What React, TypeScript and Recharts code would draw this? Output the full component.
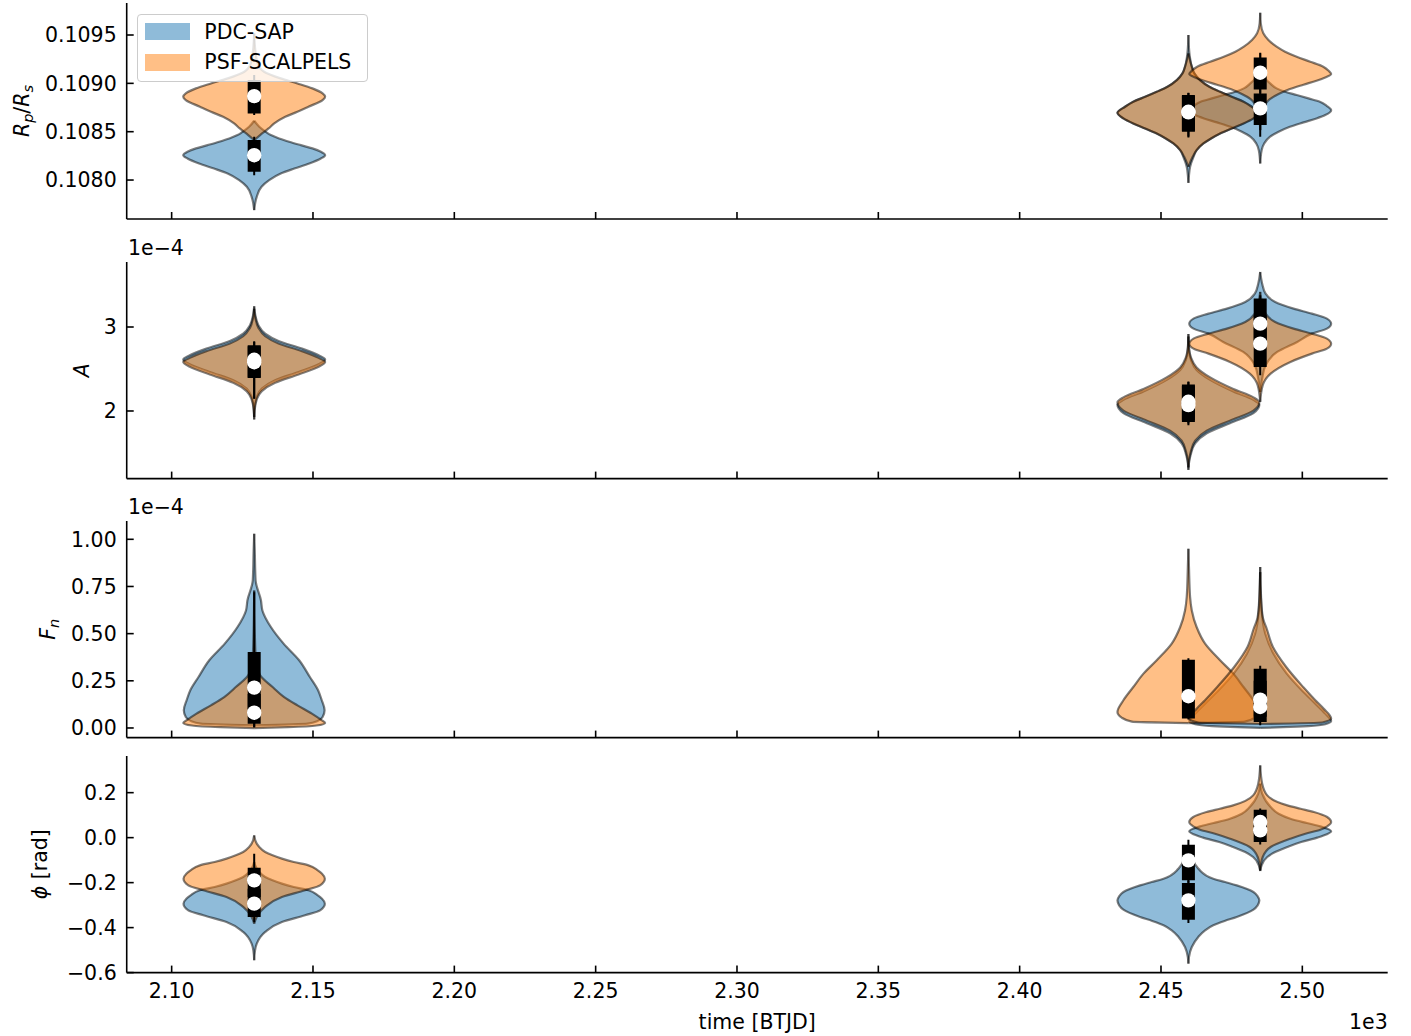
import { ComposedChart, Area, Line, XAxis, YAxis, Legend } from "recharts";

const FONT = "DejaVu Sans, sans-serif";
const FS = 20.5;
const MINUS = "\u2212";

const seriesNames = ["PDC-SAP", "PSF-SCALPELS"];
const seriesColors = ["#1f77b4", "#ff7f0e"];
// sector mid-times (BTJD) where the violins sit
const sectorTimes = [2129.2, 2459.7, 2485.1];
const timeTicks = [2100, 2150, 2200, 2250, 2300, 2350, 2400, 2450, 2500];
const timeDomain: [number, number] = [2084.1, 2530.2];

// [value, half width in days]
type Profile = [number, number][];
interface Violin { series: number; sector: number; profile: Profile }
interface BoxStat { series: number; sector: number; lo: number; q1: number; med: number; q3: number; hi: number }

// ---------- Rp/Rs ----------
const rpTicks = [0.108, 0.1085, 0.109, 0.1095];
const rpDomain: [number, number] = [0.107597, 0.109831];
const rpSapLeft: Profile = [[0.108613, 0], [0.108551, 1.8], [0.108499, 4.1], [0.108465, 5.9], [0.10843, 8.8], [0.108396, 12.4], [0.108361, 16.5], [0.108327, 20.6], [0.108292, 23.6], [0.108257, 25.1], [0.108223, 23.6], [0.108171, 19.5], [0.108119, 14.2], [0.108068, 9.4], [0.107999, 5.3], [0.10793, 2.6], [0.107826, 0.9], [0.107688, 0]];
const rpPsfLeft: Profile = [[0.109517, 0], [0.109344, 0.4], [0.109206, 1.2], [0.10912, 3.5], [0.109051, 9.4], [0.108999, 15.3], [0.108948, 20.6], [0.108896, 24.2], [0.108861, 25.1], [0.108827, 24.2], [0.108758, 19.2], [0.108706, 15.3], [0.108654, 11.0], [0.108585, 7.1], [0.108534, 5.1], [0.108465, 2.1], [0.108413, 0]];
const rpSapMid: Profile = [[0.1095, 0], [0.109413, 0.1], [0.109275, 0.5], [0.109172, 1.2], [0.109103, 2.1], [0.109034, 4.1], [0.108965, 7.4], [0.108913, 11.2], [0.108861, 15.3], [0.10881, 19.5], [0.108758, 22.4], [0.108696, 25.1], [0.108637, 23.0], [0.108585, 19.5], [0.108534, 15.3], [0.108482, 11.2], [0.10843, 8.0], [0.108378, 5.3], [0.108309, 2.9], [0.10824, 1.8], [0.108137, 0.6], [0.10805, 0.2], [0.107971, 0]];
const rpPsfMid: Profile = [[0.10931, 0], [0.109172, 1.2], [0.109103, 2.1], [0.109034, 4.1], [0.108965, 7.4], [0.108913, 11.2], [0.108861, 15.3], [0.10881, 19.5], [0.108758, 22.4], [0.108696, 25.1], [0.108637, 23.0], [0.108585, 19.5], [0.108534, 15.3], [0.108482, 11.2], [0.10843, 8.0], [0.108378, 5.3], [0.108309, 2.9], [0.10824, 1.5], [0.108137, 0]];
const rpSapRight: Profile = [[0.10931, 0], [0.109206, 0.2], [0.10912, 0.7], [0.109051, 1.7], [0.108999, 3.5], [0.108948, 5.8], [0.108913, 8.8], [0.108879, 12.9], [0.108844, 17.1], [0.10881, 21.1], [0.108765, 23.6], [0.108723, 25.1], [0.108672, 23.0], [0.108637, 19.9], [0.108596, 15.3], [0.108551, 10.5], [0.108499, 6.5], [0.108447, 3.4], [0.108378, 1.4], [0.108309, 0.5], [0.108171, 0]];
const rpPsfRight: Profile = [[0.109731, 0], [0.10962, 0.2], [0.109517, 1.1], [0.109448, 2.9], [0.109379, 5.8], [0.109327, 8.8], [0.109275, 12.9], [0.109224, 17.7], [0.109172, 22.3], [0.10913, 24.2], [0.109096, 25.1], [0.109061, 23.0], [0.109027, 19.9], [0.108986, 15.3], [0.108941, 10.5], [0.108889, 6.5], [0.108837, 3.4], [0.108768, 1.4], [0.108699, 0.5], [0.108516, 0]];
const rpBoxes: BoxStat[] = [
  { series: 0, sector: 0, lo: 0.10805, q1: 0.108085, med: 0.108257, q3: 0.108413, hi: 0.108447 },
  { series: 1, sector: 0, lo: 0.108672, q1: 0.108689, med: 0.108868, q3: 0.109034, hi: 0.109086 },
  { series: 0, sector: 1, lo: 0.10844, q1: 0.108499, med: 0.108706, q3: 0.108879, hi: 0.108903 },
  { series: 1, sector: 1, lo: 0.10845, q1: 0.10851, med: 0.1087, q3: 0.10887, hi: 0.1089 },
  { series: 0, sector: 2, lo: 0.108447, q1: 0.108568, med: 0.108741, q3: 0.108896, hi: 0.108948 },
  { series: 1, sector: 2, lo: 0.108896, q1: 0.108937, med: 0.10911, q3: 0.109268, hi: 0.109317 },
];

// ---------- A (x 1e-4) ----------
const aTicks = [2, 3];
const aDomain: [number, number] = [1.195, 3.774];
const aSapLeft: Profile = [[3.247, 0], [3.14, 0.4], [3.02, 1.5], [2.921, 3.9], [2.834, 8.6], [2.743, 16.9], [2.663, 22.8], [2.612, 25.1], [2.556, 22.8], [2.465, 15.7], [2.366, 7.4], [2.267, 2.7], [2.167, 0.9], [2.048, 0.2], [1.929, 0]];
const aPsfLeft: Profile = [[3.217, 0], [3.11, 0.4], [2.99, 1.5], [2.891, 3.9], [2.804, 8.6], [2.713, 16.9], [2.633, 22.8], [2.582, 25.1], [2.526, 22.8], [2.435, 15.7], [2.336, 7.4], [2.237, 2.7], [2.137, 0.9], [2.018, 0.2], [1.899, 0]];
const aSapMid: Profile = [[2.886, 0], [2.728, 0.2], [2.608, 0.9], [2.489, 2.9], [2.37, 7.7], [2.232, 15.9], [2.132, 23.0], [2.073, 25.1], [1.974, 23.0], [1.855, 14.7], [1.735, 6.5], [1.616, 2.4], [1.478, 0.8], [1.378, 0.2], [1.299, 0]];
const aPsfMid: Profile = [[2.916, 0], [2.758, 0.2], [2.638, 0.9], [2.519, 2.9], [2.4, 7.7], [2.262, 15.9], [2.162, 23.0], [2.103, 25.1], [2.004, 23.0], [1.885, 14.7], [1.765, 6.5], [1.646, 2.4], [1.508, 0.8], [1.408, 0.2], [1.329, 0]];
const aSapRight: Profile = [[3.655, 0], [3.516, 0.7], [3.397, 1.9], [3.298, 5.3], [3.219, 11.8], [3.159, 18.3], [3.1, 23.6], [3.04, 25.1], [2.981, 23.6], [2.921, 18.3], [2.822, 13.1], [2.703, 6.0], [2.544, 1.9], [2.385, 0.7], [2.227, 0]];
const aPsfRight: Profile = [[3.417, 0], [3.278, 0.7], [3.159, 1.9], [3.06, 5.3], [2.981, 11.8], [2.921, 18.3], [2.862, 23.6], [2.802, 25.1], [2.743, 23.6], [2.683, 18.3], [2.584, 10.7], [2.445, 3.7], [2.306, 0.9], [2.108, 0]];
const aBoxes: BoxStat[] = [
  { series: 0, sector: 0, lo: 2.147, q1: 2.393, med: 2.61, q3: 2.782, hi: 2.822 },
  { series: 1, sector: 0, lo: 2.15, q1: 2.4, med: 2.58, q3: 2.77, hi: 2.83 },
  { series: 0, sector: 1, lo: 1.83, q1: 1.87, med: 2.07, q3: 2.3, hi: 2.346 },
  { series: 1, sector: 1, lo: 1.85, q1: 1.89, med: 2.11, q3: 2.314, hi: 2.35 },
  { series: 0, sector: 2, lo: 2.663, q1: 2.814, med: 3.04, q3: 3.338, hi: 3.378 },
  { series: 1, sector: 2, lo: 2.425, q1: 2.524, med: 2.802, q3: 3.139, hi: 3.298 },
];

// ---------- F_n (x 1e-4) ----------
const fnTicks = [0, 0.25, 0.5, 0.75, 1.0];
const fnDomain: [number, number] = [-0.051, 1.097];
const fnSapLeft: Profile = [[1.029, 0], [0.941, 0.2], [0.782, 0.5], [0.676, 2.4], [0.623, 2.9], [0.535, 5.9], [0.447, 10.4], [0.359, 15.9], [0.27, 19.7], [0.2, 22.6], [0.147, 23.9], [0.094, 24.9], [0.058, 24.2], [0.037, 22.4], [0.023, 18.9], [0.014, 0]];
const fnPsfLeft: Profile = [[0.729, 0], [0.412, 0.4], [0.288, 1.8], [0.217, 6.5], [0.164, 10.6], [0.12, 15.3], [0.076, 20.4], [0.044, 23.6], [0.027, 25.1], [0.013, 22.0], [0.004, 12.0], [-0.001, 0]];
const fnPsfMid: Profile = [[0.95, 0], [0.853, 0.2], [0.694, 0.6], [0.623, 1.2], [0.535, 2.9], [0.447, 5.9], [0.359, 11.2], [0.288, 15.9], [0.217, 19.5], [0.147, 23.0], [0.085, 25.1], [0.055, 23.6], [0.034, 20.0], [0.026, 0]];
const fnSapRight: Profile = [[0.826, 0], [0.623, 0.5], [0.5, 1.8], [0.394, 4.7], [0.288, 9.4], [0.2, 14.7], [0.129, 19.5], [0.076, 23.0], [0.037, 25.1], [0.02, 23.0], [0.01, 17.0], [0.004, 8.0], [0.0, 0]];
const fnPsfRight: Profile = [[0.853, 0], [0.641, 0.5], [0.57, 1.2], [0.535, 2.1], [0.429, 4.5], [0.323, 9.2], [0.217, 15.2], [0.147, 19.5], [0.103, 22.4], [0.05, 25.1], [0.029, 22.0], [0.021, 0]];
const fnBoxes: BoxStat[] = [
  { series: 0, sector: 0, lo: 0.005, q1: 0.1, med: 0.214, q3: 0.403, hi: 0.72 },
  { series: 1, sector: 0, lo: 0.003, q1: 0.023, med: 0.081, q3: 0.18, hi: 0.4 },
  { series: 1, sector: 1, lo: 0.045, q1: 0.05, med: 0.168, q3: 0.362, hi: 0.37 },
  { series: 1, sector: 2, lo: 0.03, q1: 0.06, med: 0.15, q3: 0.314, hi: 0.33 },
  { series: 0, sector: 2, lo: 0.014, q1: 0.032, med: 0.111, q3: 0.25, hi: 0.3 },
];

// ---------- phi [rad] ----------
const phiTicks = [-0.6, -0.4, -0.2, 0, 0.2];
const phiDomain: [number, number] = [-0.6, 0.363];
const phiSapLeft: Profile = [[-0.1083, 0], [-0.1379, 0.9], [-0.1527, 1.8], [-0.175, 3.9], [-0.1898, 6.5], [-0.2046, 9.8], [-0.2194, 14.0], [-0.2342, 19.2], [-0.2564, 22.5], [-0.2713, 24.0], [-0.2935, 25.0], [-0.3231, 23.3], [-0.3453, 18.0], [-0.375, 9.8], [-0.4194, 3.9], [-0.4713, 0.9], [-0.5009, 0.3], [-0.5453, 0]];
const phiPsfLeft: Profile = [[0.0102, 0], [-0.0268, 0.9], [-0.0416, 1.8], [-0.0639, 3.9], [-0.0787, 6.5], [-0.0935, 9.8], [-0.1083, 14.0], [-0.1231, 19.2], [-0.1453, 22.5], [-0.1601, 24.0], [-0.1824, 25.0], [-0.212, 23.3], [-0.2342, 18.0], [-0.2639, 9.8], [-0.3083, 3.9], [-0.3527, 0.9], [-0.3824, 0]];
const phiSapMid: Profile = [[-0.0416, 0], [-0.0861, 1.2], [-0.1379, 3.5], [-0.1824, 8.8], [-0.1972, 13.0], [-0.212, 17.1], [-0.2416, 23.0], [-0.2609, 24.5], [-0.2787, 25.1], [-0.3009, 24.5], [-0.3201, 23.0], [-0.3527, 17.1], [-0.3705, 12.8], [-0.3898, 8.8], [-0.412, 5.9], [-0.4416, 3.5], [-0.4861, 1.2], [-0.5305, 0.2], [-0.5601, 0]];
const phiSapRight: Profile = [[0.2399, 0], [0.1954, 0.7], [0.1361, 3.7], [0.1065, 6.5], [0.0843, 10.7], [0.065, 16.5], [0.0502, 21.3], [0.028, 25.1], [0.0147, 23.6], [-0.0001, 20.2], [-0.0194, 14.5], [-0.0416, 9.6], [-0.0639, 5.3], [-0.0861, 2.5], [-0.1231, 0.5], [-0.1483, 0]];
const phiPsfRight: Profile = [[0.3213, 0], [0.2399, 0.7], [0.188, 2.5], [0.1436, 9.6], [0.1287, 14.3], [0.1139, 19.0], [0.0917, 23.7], [0.0695, 25.1], [0.0502, 23.7], [0.0354, 21.3], [0.0176, 16.0], [-0.0046, 10.7], [-0.0416, 3.7], [-0.0861, 0.9], [-0.1453, 0]];
const phiBoxes: BoxStat[] = [
  { series: 1, sector: 0, lo: -0.3, q1: -0.2639, med: -0.1898, q3: -0.1335, hi: -0.0713 },
  { series: 0, sector: 0, lo: -0.375, q1: -0.3527, med: -0.2935, q3: -0.2268, hi: -0.17 },
  { series: 0, sector: 1, lo: -0.38, q1: -0.3646, med: -0.2787, q3: -0.2016, hi: -0.19 },
  { series: 1, sector: 1, lo: -0.2, q1: -0.1898, med: -0.1009, q3: -0.0313, hi: -0.009 },
  { series: 1, sector: 2, lo: 0.01, q1: 0.0176, med: 0.0695, q3: 0.1243, hi: 0.13 },
  { series: 0, sector: 2, lo: -0.03, q1: -0.0194, med: 0.0324, q3: 0.0917, hi: 0.1 },
];

interface PanelSpec {
  top: number;
  bottom: number;
  domain: [number, number];
  ticks: number[];
  fmt: (v: number) => string;
  violins: Violin[];
  boxes: BoxStat[];
  offset?: string;
  labelX: number;
  label: React.ReactNode;
}

const sub = (s: string) => (
  <tspan fontStyle="italic" fontSize={14.5} dy={4}>{s}</tspan>
);

const panels: PanelSpec[] = [
  {
    top: 3, bottom: 219, domain: rpDomain, ticks: rpTicks, fmt: (v) => v.toFixed(4),
    violins: [
      { series: 0, sector: 0, profile: rpSapLeft }, { series: 0, sector: 1, profile: rpSapMid }, { series: 0, sector: 2, profile: rpSapRight },
      { series: 1, sector: 0, profile: rpPsfLeft }, { series: 1, sector: 1, profile: rpPsfMid }, { series: 1, sector: 2, profile: rpPsfRight },
    ],
    boxes: rpBoxes, labelX: 29,
    label: (<><tspan fontStyle="italic">R</tspan>{sub("p")}<tspan dy={-4}>/</tspan><tspan fontStyle="italic">R</tspan>{sub("s")}</>),
  },
  {
    top: 261.7, bottom: 478.3, domain: aDomain, ticks: aTicks, fmt: (v) => String(v),
    violins: [
      { series: 0, sector: 0, profile: aSapLeft }, { series: 0, sector: 1, profile: aSapMid }, { series: 0, sector: 2, profile: aSapRight },
      { series: 1, sector: 0, profile: aPsfLeft }, { series: 1, sector: 1, profile: aPsfMid }, { series: 1, sector: 2, profile: aPsfRight },
    ],
    boxes: aBoxes, offset: `1e${MINUS}4`, labelX: 89,
    label: <tspan fontStyle="italic">A</tspan>,
  },
  {
    top: 520.7, bottom: 737.3, domain: fnDomain, ticks: fnTicks, fmt: (v) => v.toFixed(2),
    violins: [
      { series: 0, sector: 0, profile: fnSapLeft }, { series: 0, sector: 2, profile: fnSapRight },
      { series: 1, sector: 0, profile: fnPsfLeft }, { series: 1, sector: 1, profile: fnPsfMid }, { series: 1, sector: 2, profile: fnPsfRight },
    ],
    boxes: fnBoxes, offset: `1e${MINUS}4`, labelX: 55,
    label: (<><tspan fontStyle="italic">F</tspan>{sub("n")}</>),
  },
  {
    top: 755.7, bottom: 972.3, domain: phiDomain, ticks: phiTicks, fmt: (v) => v.toFixed(1).replace("-", MINUS),
    violins: [
      { series: 0, sector: 0, profile: phiSapLeft }, { series: 0, sector: 1, profile: phiSapMid }, { series: 0, sector: 2, profile: phiSapRight },
      { series: 1, sector: 0, profile: phiPsfLeft }, { series: 1, sector: 2, profile: phiPsfRight },
    ],
    boxes: phiBoxes, labelX: 47,
    label: (<><tspan fontStyle="italic">ϕ</tspan><tspan> [rad]</tspan></>),
  },
];

const frame = { stroke: "#000", strokeWidth: 1.6 };
const tickStyle = { fill: "#000", fontSize: FS, fontFamily: FONT };

const LegendBox = () => (
  <div style={{ boxSizing: "border-box", width: 231, height: 68, background: "rgba(255,255,255,0.8)", border: "1px solid #cccccc", borderRadius: 4, position: "relative", fontFamily: FONT, fontSize: FS, color: "#000" }}>
    {seriesNames.map((name, i) => (
      <div key={name} style={{ position: "absolute", left: 0, top: 7.7 + i * 30.7, height: 18, display: "flex", alignItems: "center", whiteSpace: "nowrap" }}>
        <span style={{ display: "inline-block", marginLeft: 7, width: 45, height: 16.5, background: seriesColors[i], opacity: 0.5 }} />
        <span style={{ marginLeft: 14, lineHeight: "18px" }}>{name}</span>
      </div>
    ))}
  </div>
);

function Panel({ p, last, first }: { p: PanelSpec; last: boolean; first: boolean }) {
  const mTop = first ? p.top : 40;
  const chartTop = p.top - mTop;
  const plotH = p.bottom - p.top;
  const axisH = last ? 64 : 12;
  const midY = mTop + plotH / 2;
  return (
    <div style={{ position: "absolute", left: 0, top: chartTop }}>
      <ComposedChart layout="vertical" width={1411} height={mTop + plotH + axisH} margin={{ top: mTop, right: 23.3, bottom: 0, left: 0 }}>
        <XAxis type="number" domain={timeDomain} allowDataOverflow ticks={timeTicks} interval={0} height={axisH}
          tickSize={-7} tickMargin={18} axisLine={frame} tickLine={frame} tick={tickStyle}
          tickFormatter={(v: number) => (last ? (v / 1000).toFixed(2) : "")} />
        <XAxis xAxisId="top" orientation="top" type="number" domain={timeDomain} allowDataOverflow height={0} tick={false} tickLine={false} axisLine={frame} />
        <YAxis type="number" dataKey="v" reversed domain={p.domain} allowDataOverflow ticks={p.ticks} interval={0} width={126.7}
          tickSize={-7} tickMargin={17} axisLine={frame} tickLine={frame} tick={tickStyle} tickFormatter={p.fmt} />
        <YAxis yAxisId="right" orientation="right" type="number" reversed domain={p.domain} allowDataOverflow width={0} tick={false} tickLine={false} axisLine={frame} />
        {p.violins.map((vl, i) => {
          const c = sectorTimes[vl.sector];
          return (
            <Area key={`v${i}`} data={vl.profile.map(([v, hw]) => ({ v, x: [c - hw, c + hw] }))} dataKey="x" type="monotone"
              fill={seriesColors[vl.series]} fillOpacity={0.5} stroke="#000" strokeOpacity={0.5} strokeWidth={2.2}
              dot={false} activeDot={false} isAnimationActive={false} />
          );
        })}
        {p.boxes.map((b, i) => {
          const c = sectorTimes[b.sector];
          return (
            <Line key={`w${i}`} data={[{ v: b.hi, x: c }, { v: b.lo, x: c }]} dataKey="x" stroke="#000" strokeWidth={2}
              dot={false} activeDot={false} isAnimationActive={false} />
          );
        })}
        {p.boxes.map((b, i) => {
          const c = sectorTimes[b.sector];
          return (
            <Line key={`b${i}`} data={[{ v: b.q3, x: c }, { v: b.q1, x: c }]} dataKey="x" stroke="#000" strokeWidth={13}
              dot={false} activeDot={false} isAnimationActive={false} />
          );
        })}
        {p.boxes.map((b, i) => {
          const c = sectorTimes[b.sector];
          return (
            <Line key={`m${i}`} data={[{ v: b.med, x: c }]} dataKey="x" stroke="none"
              dot={{ r: 7.2, fill: "#fff", stroke: "none", strokeWidth: 0 }} activeDot={false} isAnimationActive={false} />
          );
        })}
        <text x={p.labelX} y={midY} transform={`rotate(-90 ${p.labelX} ${midY})`} textAnchor="middle" fontFamily={FONT} fontSize={FS} fill="#000">
          {p.label}
        </text>
        {p.offset && (
          <text x={128} y={mTop - 7} fontFamily={FONT} fontSize={FS} fill="#000">{p.offset}</text>
        )}
        {last && (
          <text x={757.2} y={1029 - chartTop} textAnchor="middle" fontFamily={FONT} fontSize={FS} fill="#000">time [BTJD]</text>
        )}
        {last && (
          <text x={1387.7} y={1029 - chartTop} textAnchor="end" fontFamily={FONT} fontSize={FS} fill="#000">1e3</text>
        )}
        {first && (
          <Legend layout="vertical" align="center" verticalAlign="middle"
            wrapperStyle={{ left: 137.3, top: 14, width: 231, height: 68 }} content={() => <LegendBox />} />
        )}
      </ComposedChart>
    </div>
  );
}

export default function App() {
  return (
    <div style={{ position: "absolute", left: 0, top: 0, width: 1411, height: 1036, background: "#fff" }}>
      {panels.map((p, i) => (
        <Panel key={i} p={p} first={i === 0} last={i === panels.length - 1} />
      ))}
    </div>
  );
}
